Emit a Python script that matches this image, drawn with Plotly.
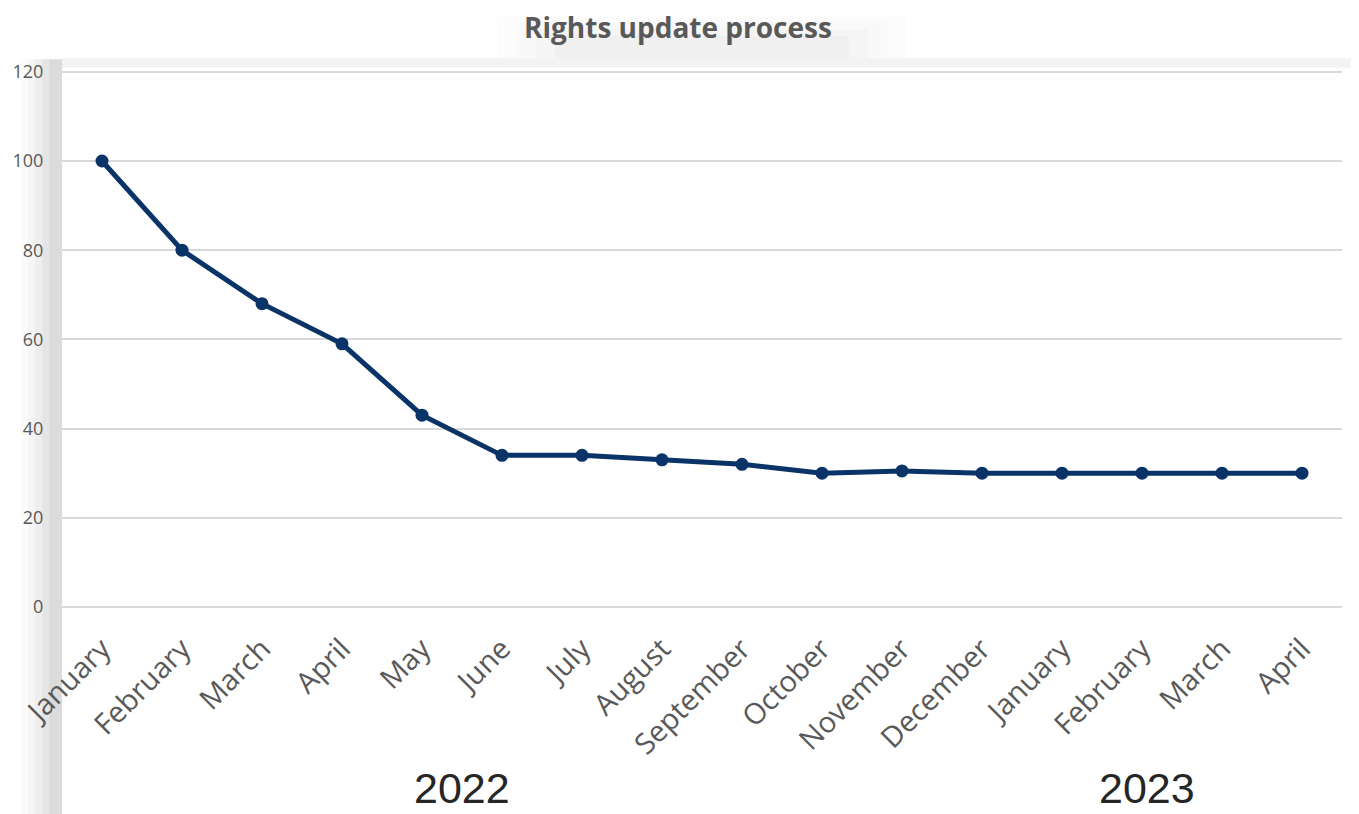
import plotly.graph_objects as go

months = ["January", "February", "March", "April", "May", "June", "July", "August",
          "September", "October", "November", "December", "January", "February", "March", "April"]
values = [100, 80, 68, 59, 43, 34, 34, 33, 32, 30, 30.5, 30, 30, 30, 30, 30]
year_labels = ["2022", "2023"]
year_positions = [4.5, 13.06]
y_ticks = [0, 20, 40, 60, 80, 100, 120]
chart_title = "Rights update process"

x_idx = list(range(len(months)))

fig = go.Figure()
fig.add_trace(go.Scatter(
    x=x_idx, y=values, mode="lines+markers",
    line=dict(color="#0a3467", width=5),
    marker=dict(color="#0a3467", size=13),
    showlegend=False, hoverinfo="y"
))

shapes = []
# soft shadow bands (decorative)
for i, a in enumerate([0.05, 0.08, 0.11, 0.14, 0.18]):
    shapes.append(dict(type="rect", xref="paper", yref="paper",
                       x0=-0.032 + i * 0.0055, x1=-0.0, y0=-0.39, y1=1.02,
                       fillcolor=f"rgba(180,180,180,{a})", line_width=0, layer="below"))
shapes.append(dict(type="rect", xref="paper", yref="paper",
                   x0=0.0, x1=1.02, y0=1.004, y1=1.022,
                   fillcolor="rgba(200,200,200,0.22)", line_width=0, layer="below"))
for i, a in enumerate([0.04, 0.05, 0.06, 0.07]):
    shapes.append(dict(type="rect", xref="paper", yref="paper",
                       x0=0.34 + i * 0.015, x1=0.66 - i * 0.015, y0=1.022, y1=1.10 - i * 0.012,
                       fillcolor=f"rgba(190,190,190,{a})", line_width=0, layer="below"))

annotations = [dict(text=t, x=p, y=-0.337, xref="x", yref="paper",
                    showarrow=False, xanchor="center", yanchor="middle",
                    font=dict(family="Liberation Sans Narrow, Liberation Sans", size=43, color="#262626"))
               for t, p in zip(year_labels, year_positions)]
annotations.append(dict(text=f"<b>{chart_title}</b>", x=0.481, y=1.080, xref="paper", yref="paper",
                        showarrow=False, xanchor="center", yanchor="middle",
                        font=dict(family="Open Sans", size=28, color="#595959")))

fig.update_layout(
    width=1351, height=806,
    margin=dict(l=54, r=17, t=62, b=207, autoexpand=False),
    paper_bgcolor="white", plot_bgcolor="white",
    xaxis=dict(tickmode="array", tickvals=x_idx, ticktext=months, tickangle=-45,
               range=[-0.5, 15.5], showgrid=False, zeroline=False, showline=False,
               tickfont=dict(family="Open Sans", size=29, color="#595959"), ticks="",
               ticklabelstandoff=18, automargin=False),
    yaxis=dict(tickmode="array", tickvals=y_ticks, range=[0, 120.4], showgrid=True,
               gridcolor="#d9d9d9", gridwidth=1.5, zeroline=True, zerolinecolor="#d9d9d9",
               zerolinewidth=1.5, showline=False,
               tickfont=dict(family="Open Sans", size=18, color="#595959"),
               ticks="outside", ticklen=14, tickcolor="rgba(0,0,0,0)", automargin=False),
    shapes=shapes,
    annotations=annotations,
)

fig.write_html("out.html")
